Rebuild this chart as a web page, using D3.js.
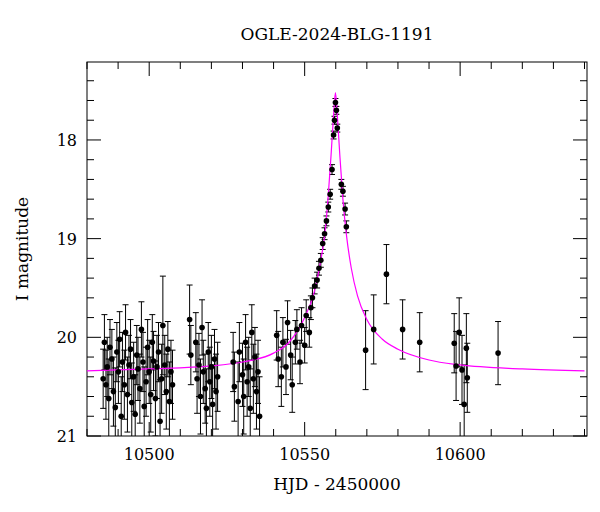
<!DOCTYPE html>
<html><head><meta charset="utf-8">
<script src="https://cdn.jsdelivr.net/npm/d3@7"></script>
<style>body{margin:0;background:#fff}text{font-family:"DejaVu Serif",serif}</style>
</head><body><svg width="600" height="512"></svg>
<script>
const title = "OGLE-2024-BLG-1191";
const xTicks = [10500, 10550, 10600];
const yTicks = [18, 19, 20, 21];

// observations: HJD-2450000, I mag, error
const obsT = [
 10485.2,10485.6,10486.1,10486.5,10487.0,10487.4,10488.0,10488.5,10489.1,10489.6,
 10490.1,10490.5,10491.0,10491.4,10492.0,10492.4,10493.0,10493.5,10494.0,10494.4,
 10495.0,10495.5,10496.0,10496.4,10497.0,10497.5,10498.0,10498.4,10499.0,10499.5,
 10500.0,10500.5,10501.0,10501.4,10502.0,10502.5,10503.0,10503.5,10504.0,10504.4,
 10505.0,10505.5,10506.0,10506.5,10507.0,10507.5,
 10513.0,10513.4,10515.0,10515.4,10516.0,10516.5,10517.0,10517.4,10518.0,10518.4,
 10519.0,10519.5,10520.0,10520.4,10521.0,10521.5,10522.0,
 10527.0,10527.4,10528.6,10529.0,10530.0,10530.4,10531.0,10531.5,10532.0,10532.5,
 10533.0,10533.5,10534.0,10534.5,10535.0,10535.5,
 10541.0,10541.5,10542.5,10543.0,10544.0,10544.5,10545.5,10546.0,10547.0,10547.5,
 10548.5,10549.0,10550.0,10550.5,10551.5,10552.0,10552.5,10553.2,10554.0,10554.6,
 10555.2,10555.8,10556.4,10557.0,10557.6,10558.2,10558.8,10559.3,10559.6,10559.9,
 10560.2,10560.5,10561.8,10562.3,10563.0,10563.4,
 10569.6,10572.2,10576.3,10581.5,10587.0,10598.1,10598.7,10599.7,10600.6,10601.3,10602.0,10602.3,10612.2
];
const obsMag = [
 20.42,20.05,20.48,20.30,20.62,20.10,20.22,20.55,20.71,20.15,
 20.35,20.02,20.80,20.25,20.48,19.95,20.58,20.28,20.12,20.66,
 20.40,20.78,20.18,20.32,20.52,19.92,20.25,20.70,20.45,20.10,
 20.35,20.58,20.05,20.24,20.62,20.30,20.15,20.85,20.42,19.88,
 20.28,20.55,20.12,20.65,20.35,20.48,
 19.82,20.18,20.05,20.42,20.28,20.60,19.90,20.35,20.52,20.72,
 20.15,20.45,20.30,20.68,20.22,20.55,20.40,
 20.25,20.50,20.65,20.15,20.38,20.60,20.05,20.45,20.30,20.72,
 19.95,20.42,20.20,20.55,20.35,20.80,
 19.98,20.22,20.40,20.05,20.30,19.85,20.18,20.48,20.05,19.92,
 20.25,19.88,20.08,19.78,19.95,19.70,19.60,19.48,19.42,19.30,
 19.22,19.05,18.95,18.82,18.68,18.55,18.30,17.95,17.80,17.62,
 17.70,17.88,18.45,18.52,18.70,18.88,
 20.13,19.92,19.36,19.92,20.05,20.06,20.29,19.95,20.33,20.68,20.11,20.41,20.16
];
const obsErr = [
 0.30,0.28,0.35,0.30,0.40,0.28,0.30,0.35,0.40,0.30,
 0.32,0.28,0.40,0.30,0.35,0.28,0.38,0.30,0.30,0.40,
 0.35,0.40,0.30,0.32,0.35,0.28,0.30,0.40,0.35,0.28,
 0.32,0.38,0.28,0.30,0.38,0.32,0.30,0.42,0.35,0.50,
 0.30,0.38,0.28,0.40,0.32,0.35,
 0.35,0.30,0.30,0.35,0.32,0.38,0.28,0.32,0.35,0.40,
 0.30,0.35,0.32,0.40,0.30,0.38,0.35,
 0.30,0.35,0.40,0.30,0.32,0.38,0.28,0.35,0.30,0.40,
 0.28,0.35,0.30,0.38,0.32,0.40,
 0.25,0.28,0.30,0.25,0.28,0.22,0.25,0.28,0.22,0.20,
 0.22,0.18,0.18,0.16,0.15,0.12,0.10,0.08,0.08,0.07,
 0.07,0.06,0.06,0.05,0.05,0.05,0.05,0.04,0.04,0.04,
 0.04,0.04,0.05,0.05,0.06,0.06,
 0.40,0.35,0.30,0.30,0.30,0.30,0.35,0.35,0.35,0.40,0.35,0.35,0.32
];

// model curve
const modelT = [10480,10500,10520,10530,10540,10545,10550,10553,10555,10556.5,10557.5,10558.5,10559.3,10559.9,10560.5,10561.3,10562.3,10563.5,10565,10567,10570,10575,10580,10590,10600,10620,10640];
const modelMag = [20.34,20.32,20.29,20.25,20.16,20.05,19.80,19.55,19.25,18.95,18.60,18.15,17.75,17.52,17.75,18.15,18.60,18.98,19.30,19.58,19.82,20.02,20.12,20.23,20.28,20.32,20.34];

const svg = d3.select("svg");
const L = 87, R = 587, T = 62, B = 436;
const x = d3.scaleLinear().domain([10480, 10640.8]).range([L, R]);
const y = d3.scaleLinear().domain([17.21, 21]).range([T, B]);

// frame
svg.append("rect").attr("x", L).attr("y", T).attr("width", R - L).attr("height", B - T)
  .attr("fill", "none").attr("stroke", "#000").attr("stroke-width", 1);

function ticks(major, minorStep, dom, pos, horiz) {
  const minors = d3.range(Math.ceil(dom[0] / minorStep) * minorStep, dom[1], minorStep);
  minors.forEach(v => {
    const isMaj = Math.abs(v / major - Math.round(v / major)) < 1e-6;
    const len = isMaj ? 14 : 7;
    const p = pos(v);
    if (horiz) {
      svg.append("line").attr("x1", p).attr("x2", p).attr("y1", B).attr("y2", B - len).attr("stroke", "#000");
      svg.append("line").attr("x1", p).attr("x2", p).attr("y1", T).attr("y2", T + len).attr("stroke", "#000");
    } else {
      svg.append("line").attr("y1", p).attr("y2", p).attr("x1", L).attr("x2", L + len).attr("stroke", "#000");
      svg.append("line").attr("y1", p).attr("y2", p).attr("x1", R).attr("x2", R - len).attr("stroke", "#000");
    }
  });
}
ticks(50, 10, x.domain(), x, true);
ticks(1, 0.2, [17.21, 21.01], y, false);

xTicks.forEach(v => svg.append("text").attr("x", x(v)).attr("y", B + 24)
  .attr("text-anchor", "middle").attr("font-size", 16).text(v));
yTicks.forEach(v => svg.append("text").attr("x", L - 10).attr("y", y(v) + 6)
  .attr("text-anchor", "end").attr("font-size", 16).text(v));

svg.append("text").attr("x", 337).attr("y", 40).attr("text-anchor", "middle").attr("font-size", 17).text(title);
svg.append("text").attr("x", 337).attr("y", 490).attr("text-anchor", "middle").attr("font-size", 17).text("HJD - 2450000");
svg.append("text").attr("transform", "translate(28,249) rotate(-90)").attr("text-anchor", "middle")
  .attr("font-size", 17).text("I magnitude");

const clip = svg.append("clipPath").attr("id", "c").append("rect")
  .attr("x", L).attr("y", T).attr("width", R - L).attr("height", B - T);
const g = svg.append("g").attr("clip-path", "url(#c)");

const pts = obsT.map((t, i) => ({ t, m: obsMag[i], e: obsErr[i] }));
pts.forEach(d => {
  const px = x(d.t), y1 = y(d.m - d.e), y2 = y(d.m + d.e);
  g.append("line").attr("x1", px).attr("x2", px).attr("y1", y1).attr("y2", y2).attr("stroke", "#000");
  [y1, y2].forEach(yy => g.append("line").attr("x1", px - 3).attr("x2", px + 3)
    .attr("y1", yy).attr("y2", yy).attr("stroke", "#000"));
});

g.append("path").datum(modelT.map((t, i) => [t, modelMag[i]]))
  .attr("fill", "none").attr("stroke", "#ff00ff").attr("stroke-width", 1.2)
  .attr("d", d3.line().x(d => x(d[0])).y(d => y(d[1])).curve(d3.curveMonotoneX));

g.selectAll("circle").data(pts).enter().append("circle")
  .attr("cx", d => x(d.t)).attr("cy", d => y(d.m)).attr("r", 2.8).attr("fill", "#000");
</script></body></html>
